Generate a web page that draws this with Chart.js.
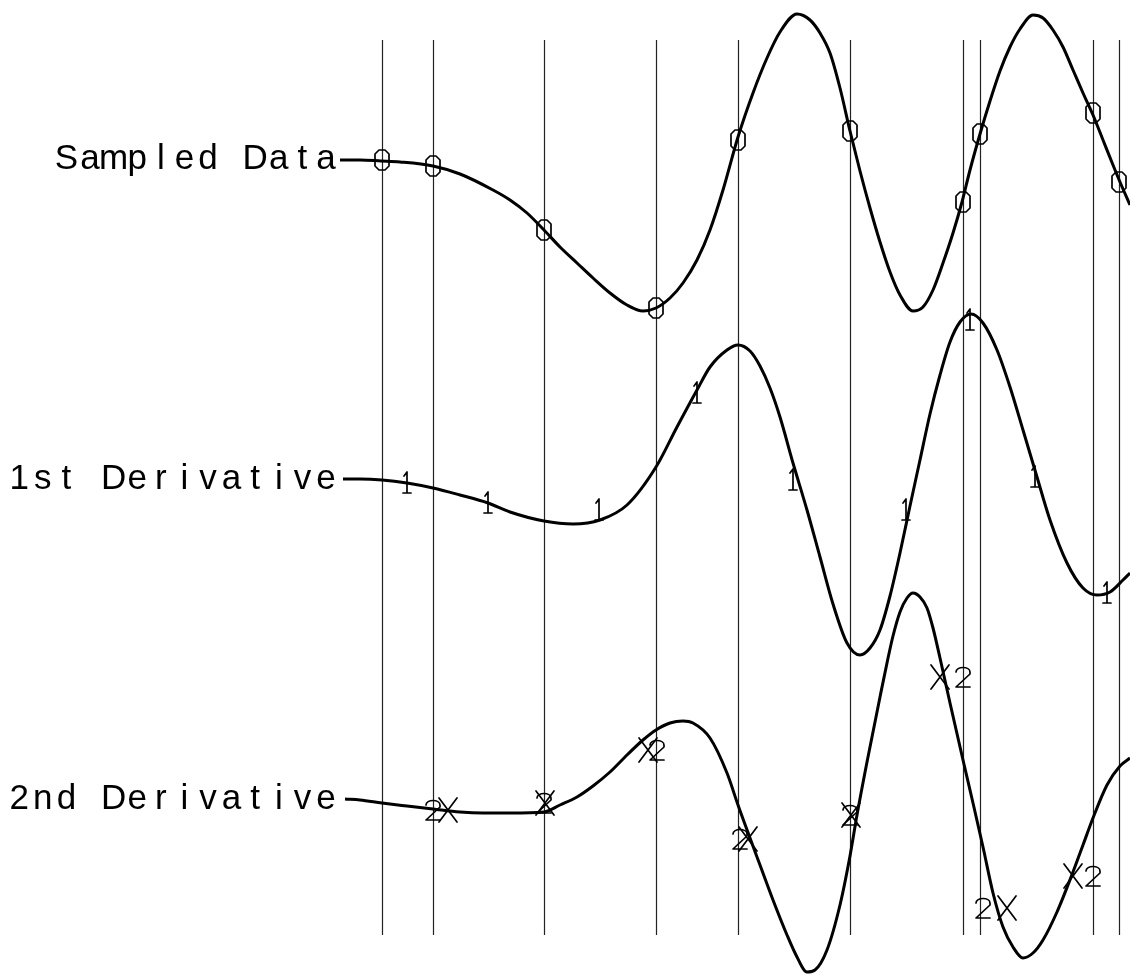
<!DOCTYPE html>
<html lang="en">
<head>
<meta charset="UTF-8">
<title>Sampled Data and Derivatives</title>
<script src="https://cdn.jsdelivr.net/npm/chart.js"></script>
<style>
  html, body { margin: 0; padding: 0; background: #fff; }
  canvas { display: block; }
</style>
</head>
<body>
<canvas id="chart" width="1130" height="977"></canvas>
<script>
// sample positions (x units); vertical guide lines sit on these
const sampleX = [38.2, 43.3, 54.4, 65.6, 73.8, 85.0, 96.3, 98.0, 109.3, 111.9];
const sampleY = [0.00, -0.06, -0.70, -1.48, 0.20, 0.29, -0.42, 0.26, 0.47, -0.22];

const dataCurveX = [34.0, 36.0, 38.1, 40.0, 43.3, 46.0, 49.3, 51.0, 52.7, 54.4, 56.0, 57.7, 59.3, 61.0, 62.7, 64.3,
  65.6, 67.0, 68.3, 69.7, 71.0, 72.3, 73.8, 75.3, 76.7, 78.0, 79.7, 81.0, 82.0, 83.0, 84.0, 85.0,
  86.0, 87.0, 88.0, 89.0, 90.0, 91.3, 92.3, 93.3, 94.3, 95.3, 96.2, 97.0, 98.0, 99.0, 100.0, 101.0, 102.0,
  103.3, 104.3, 105.3, 106.3, 107.3, 108.3, 109.3, 110.3, 111.3, 112.0, 113.0];
const dataCurveY = [0.00, 0.00, -0.01, -0.02, -0.06, -0.14, -0.30, -0.40, -0.53, -0.70, -0.87, -1.03, -1.18, -1.33, -1.45, -1.51,
  -1.48, -1.38, -1.23, -1.00, -0.70, -0.30, 0.23, 0.67, 1.02, 1.28, 1.46, 1.40, 1.27, 1.07, 0.72, 0.29,
  -0.11, -0.48, -0.82, -1.12, -1.35, -1.51, -1.47, -1.30, -1.03, -0.73, -0.42, -0.10, 0.26, 0.59, 0.89, 1.13, 1.31,
  1.45, 1.42, 1.30, 1.13, 0.90, 0.67, 0.45, 0.20, -0.05, -0.22, -0.45];

// first derivative: difference quotients at interval midpoints, and its curve
const diff1X = [40.7, 48.8, 59.9, 69.7, 79.3, 90.6, 97.0, 103.5, 110.7];
const diff1Y = [-0.03, -0.23, -0.30, 0.87, 0.00, -0.30, 1.60, 0.03, -1.13];
const d1CurveX = [34.3, 36.0, 38.2, 40.7, 43.3, 46.0, 48.8, 51.0, 54.4, 57.3, 60.0, 62.7, 65.6, 67.7, 69.7, 71.0,
  72.7, 73.8, 75.0, 76.0, 77.0, 78.0, 79.3, 80.7, 82.0, 83.3, 84.7, 86.0, 87.0, 88.0, 89.0, 90.0,
  91.0, 92.0, 93.0, 94.0, 95.0, 96.0, 97.1, 98.3, 99.7, 101.0, 102.3, 103.7, 105.0, 106.7, 108.3, 109.7,
  111.0, 112.3, 113.0];
const d1CurveY = [0.01, 0.01, 0.00, -0.03, -0.08, -0.15, -0.23, -0.32, -0.41, -0.44, -0.40, -0.25, 0.13, 0.53, 0.90, 1.13,
  1.30, 1.35, 1.29, 1.14, 0.92, 0.63, 0.17, -0.30, -0.77, -1.24, -1.63, -1.75, -1.68, -1.50, -1.16, -0.73,
  -0.26, 0.20, 0.66, 1.05, 1.38, 1.58, 1.66, 1.57, 1.30, 0.93, 0.50, 0.03, -0.40, -0.83, -1.08, -1.15,
  -1.12, -1.00, -0.93];

// second derivative: "2" at the samples, "X" at midpoints of midpoints, and its curve
const diff2X = [43.3, 54.4, 65.7, 74.0, 85.0, 96.3, 98.3, 109.3];
const cross2X = [44.8, 54.5, 64.8, 74.8, 85.1, 94.0, 100.7, 107.3];
const diff2Y = [-0.10, -0.03, 0.50, -0.39, -0.15, 1.23, -1.08, -0.76];
const d2CurveX = [34.5, 36.0, 38.2, 40.7, 43.3, 46.0, 48.3, 51.0, 54.4, 56.0, 57.7, 59.3, 61.0, 62.7, 64.3, 65.6,
  67.0, 68.3, 69.3, 71.0, 72.7, 73.8, 75.0, 76.0, 77.3, 78.7, 79.7, 80.7, 81.5, 82.7, 84.0, 85.0, 85.7,
  86.7, 88.0, 88.7, 89.3, 90.0, 90.7, 91.3, 92.0, 92.7, 93.3, 94.0, 95.0, 96.3, 97.3, 98.3, 99.3, 100.3,
  101.3, 102.3, 103.3, 104.3, 105.7, 107.3, 108.3, 109.3, 110.7, 112.0, 113.0];
const d2CurveY = [0.01, 0.00, -0.03, -0.06, -0.09, -0.12, -0.13, -0.13, -0.12, -0.05, 0.03, 0.14, 0.28, 0.45, 0.60, 0.70,
  0.77, 0.79, 0.77, 0.62, 0.27, -0.05, -0.38, -0.65, -1.00, -1.35, -1.57, -1.72, -1.70, -1.50, -1.05, -0.56, -0.15,
  0.38, 1.03, 1.37, 1.64, 1.88, 2.02, 2.07, 2.03, 1.92, 1.72, 1.42, 0.97, 0.40, -0.03, -0.47, -0.93, -1.27,
  -1.47, -1.58, -1.53, -1.40, -1.12, -0.72, -0.45, -0.18, 0.15, 0.34, 0.42];

const curveLabels = ['Sampled Data', '1st Derivative', '2nd Derivative'];

const pts = (xs, ys) => xs.map((x, i) => ({ x: x, y: ys[i] }));

// small canvases used as point styles (plotter-like glyphs)
function glyph(w, h, draw) {
  const c = document.createElement('canvas');
  c.width = w; c.height = h;
  const g = c.getContext('2d');
  g.strokeStyle = '#000';
  g.lineWidth = 1.7;
  g.lineJoin = 'round';
  g.lineCap = 'round';
  g.beginPath();
  draw(g);
  g.stroke();
  return c;
}
const zeroMark = glyph(18, 24, g => {
  g.moveTo(6, 2); g.lineTo(12, 2); g.lineTo(16, 6); g.lineTo(16, 18);
  g.lineTo(12, 22); g.lineTo(6, 22); g.lineTo(2, 18); g.lineTo(2, 6); g.closePath();
});
const oneMark = glyph(12, 26, g => {
  g.moveTo(3, 6); g.lineTo(6, 2); g.lineTo(6, 23);
  g.moveTo(2, 23); g.lineTo(10, 23);
});
const twoMark = glyph(18, 24, g => {
  g.moveTo(2, 7); g.bezierCurveTo(2, 1, 16, 1, 16, 7); g.lineTo(16, 9);
  g.lineTo(2, 22); g.lineTo(16, 22);
});
const crossMark = glyph(22, 28, g => {
  g.moveTo(2, 2); g.lineTo(20, 26);
  g.moveTo(20, 2); g.lineTo(2, 26);
});

const curve = (data, axis) => ({
  data: data, yAxisID: axis, borderColor: '#000', borderWidth: 3,
  pointRadius: 0, cubicInterpolationMode: 'monotone', fill: false
});
const marks = (data, axis, style) => ({
  data: data, yAxisID: axis, showLine: false, pointStyle: style,
  pointRadius: 6, borderColor: '#000', backgroundColor: '#000'
});

// vertical guides at the sample positions and the curve labels
const guidesAndLabels = {
  id: 'guidesAndLabels',
  beforeDatasetsDraw(chart) {
    const { ctx, scales } = chart;
    ctx.save();
    ctx.strokeStyle = '#222';
    ctx.lineWidth = 1.2;
    sampleX.forEach(v => {
      const px = Math.round(scales.x.getPixelForValue(v)) + 0.5;
      ctx.beginPath();
      ctx.moveTo(px, 40);
      ctx.lineTo(px, 935);
      ctx.stroke();
    });
    ctx.fillStyle = '#000';
    ctx.font = '35px "Liberation Sans", sans-serif';
    ctx.textAlign = 'center';
    ctx.textBaseline = 'alphabetic';
    ['y0', 'y1', 'y2'].forEach((id, k) => {
      const base = scales[id].getPixelForValue(0) + 9;
      const text = curveLabels[k];
      const n = text.length;
      for (let i = 0; i < n; i++) {
        ctx.fillText(text[i], 326 - (n - 1 - i) * 23.6, base);
      }
    });
    ctx.restore();
  }
};

new Chart(document.getElementById('chart'), {
  type: 'line',
  data: {
    datasets: [
      marks(pts(sampleX, sampleY), 'y0', zeroMark),
      marks(pts(diff1X, diff1Y), 'y1', oneMark),
      marks(pts(diff2X, diff2Y), 'y2', twoMark),
      marks(pts(cross2X, diff2Y), 'y2', crossMark),
      curve(pts(dataCurveX, dataCurveY), 'y0'),
      curve(pts(d1CurveX, d1CurveY), 'y1'),
      curve(pts(d2CurveX, d2CurveY), 'y2')
    ]
  },
  options: {
    responsive: false,
    animation: false,
    layout: { padding: 0, autoPadding: false },
    plugins: { legend: { display: false }, tooltip: { enabled: false } },
    scales: {
      x: { type: 'linear', min: 0, max: 113, display: false },
      y0: { type: 'linear', min: -8.17, max: 1.60, display: false },
      y1: { type: 'linear', min: -4.97, max: 4.80, display: false },
      y2: { type: 'linear', min: -1.77, max: 8.00, display: false }
    }
  },
  plugins: [guidesAndLabels]
});
</script>
</body>
</html>
